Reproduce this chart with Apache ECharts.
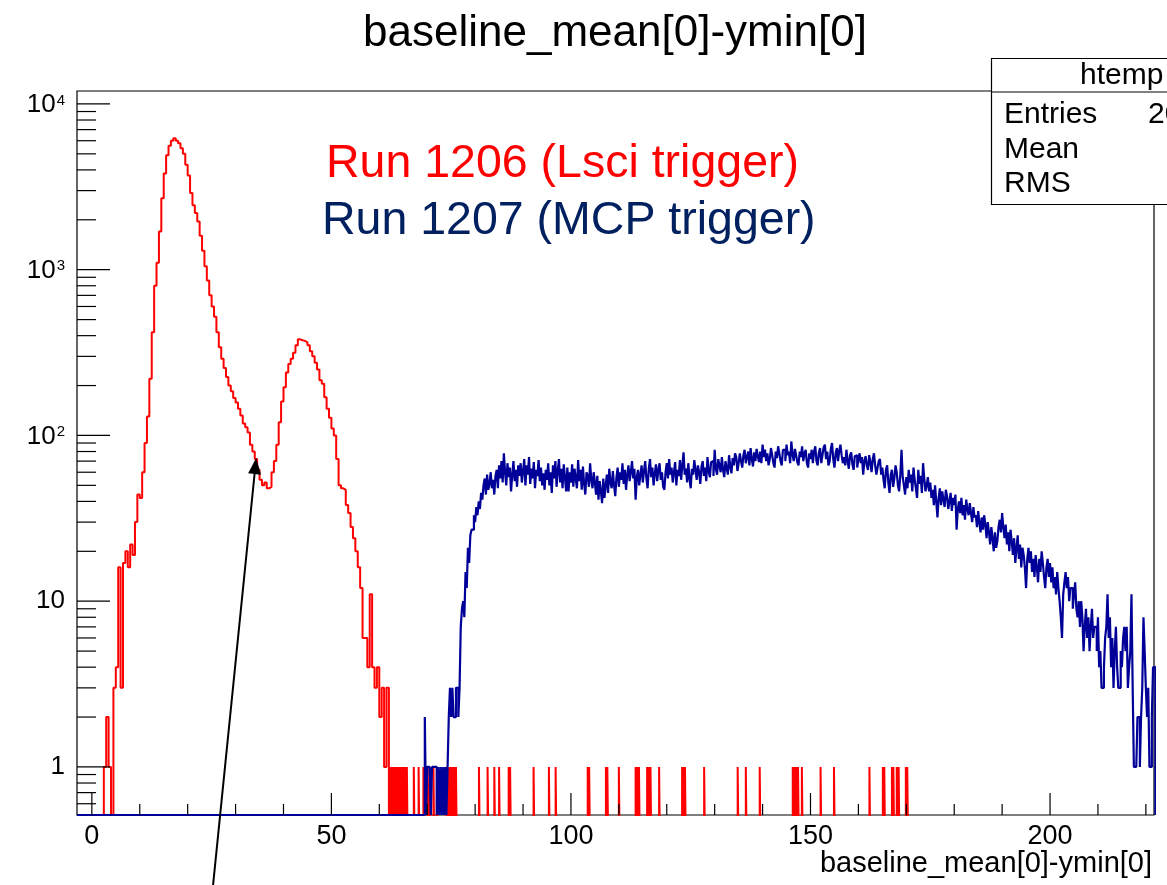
<!DOCTYPE html>
<html>
<head>
<meta charset="utf-8">
<script src="https://cdn.jsdelivr.net/npm/echarts@6/dist/echarts.min.js"></script>
<style>
html,body{margin:0;padding:0;background:#fff;}
#c{width:1167px;height:885px;}
</style>
</head>
<body>
<div id="c"></div>
<script>
// ---------------- data ----------------
const X_MIN = -3.1, X_MAX = 221.7;
const Y_MIN = 0.513, Y_MAX = 11970;

const xLabelValues = [0, 50, 100, 150, 200];
const xTickValues = [0, 10, 20, 30, 40, 50, 60, 70, 80, 90, 100, 110, 120, 130, 140, 150, 160, 170, 180, 190, 200, 210, 220];
const yMajorTicks = [1, 10, 100, 1000, 10000];
const yMinorTicks = [0.6, 0.7, 0.8, 0.9,
  2, 3, 4, 5, 6, 7, 8, 9,
  20, 30, 40, 50, 60, 70, 80, 90,
  200, 300, 400, 500, 600, 700, 800, 900,
  2000, 3000, 4000, 5000, 6000, 7000, 8000, 9000];

// Run 1206 (Lsci trigger): bins of 0.5 starting at 2.5
const redStart = 2.5;
const redBinWidth = 0.5;
const redCounts = [
  1, 2, 1, 0, 3, 4, 16, 3, 17, 20, 16, 22, 19, 30, 44, 42, 60, 90, 130, 220,
  420, 800, 1100, 1700, 2700, 3800, 4900, 5600, 6000, 6200, 6000, 5800, 5400, 5000, 4300, 3700, 2900, 2450, 2200, 1950,
  1600, 1300, 1050, 860, 700, 600, 520, 420, 340, 290, 255, 225, 200, 185, 168, 158, 145, 132, 118, 112,
  104, 88, 80, 72, 62, 54, 50, 52, 48, 49, 60, 70, 88, 120, 160, 195, 240, 270, 290, 315,
  350, 380, 375, 372, 365, 350, 322, 300, 275, 250, 215, 205, 170, 145, 128, 110, 100, 72, 50, 48,
  47, 38, 34, 28, 24, 20, 16, 12, 6, 6, 4, 11, 4, 3, 4, 2, 3, 1, 3
];
// single-entry bins (width 0.25) of Run 1206 beyond the main body
const redSingleWidth = 0.25;
const redSingles = [
  62.0, 62.25, 62.5, 62.75, 63.0, 63.25, 63.5, 63.75, 64.0, 64.25, 64.5, 64.75, 65.0, 65.25, 65.5, 65.75,
  67.2, 68.2, 69.2, 70.0, 70.5, 71.3, 72.0,
  74.0, 74.25, 74.5, 74.75, 75.0, 75.25, 75.5, 75.75, 76.0,
  80.8, 82.6, 84.0, 85.0, 87.0, 87.3, 92.2, 95.4, 96.8,
  103.5, 103.8, 107.3, 107.6, 110.0, 113.5, 113.8, 114.2, 115.9, 116.3, 116.6, 118.4,
  123.2, 123.5, 123.8, 127.8, 134.8, 136.5, 139.4, 146.3, 146.6, 147.0, 147.4, 148.2,
  152.1, 154.9, 162.3, 165.1, 165.4, 167.0, 167.3, 168.0, 168.4, 169.9, 170.2
];

// Run 1207 (MCP trigger): bins of 0.25 starting at 69.5 (one row = 5 units)
const blueStart = 69.5;
const blueBinWidth = 0.25;
const blueCounts = [
  2, 0, 1, 1, 1, 0, 1, 1, 1, 1, 0, 1, 0, 1, 0, 1, 0, 1, 0, 1,
  2, 3, 2, 3, 2, 2, 3, 3, 2, 3, 7, 9, 10, 8, 15, 12, 21, 17, 25, 27,
  27, 33, 30, 37, 33, 40, 36, 45, 41, 50, 55, 44, 58, 47, 51, 60, 48, 54, 44, 57,
  62, 48, 66, 55, 70, 52, 78, 60, 50, 68, 56, 64, 46, 58, 70, 53, 62, 49, 66, 57,
  68, 52, 61, 72, 50, 66, 58, 74, 51, 63, 55, 69, 48, 62, 57, 71, 53, 64, 50, 59,
  47, 62, 54, 68, 50, 60, 45, 66, 55, 70, 49, 61, 72, 52, 63, 48, 67, 56, 46, 64,
  46, 60, 52, 67, 49, 63, 55, 48, 71, 53, 62, 47, 65, 51, 44, 60, 57, 49, 68, 54,
  48, 60, 52, 44, 57, 41, 53, 46, 39, 55, 42, 50, 58, 45, 63, 52, 48, 61, 50, 43,
  56, 64, 49, 60, 54, 68, 51, 62, 47, 58, 66, 53, 60, 70, 55, 63, 41, 56, 62, 50,
  58, 66, 52, 61, 70, 55, 48, 63, 72, 56, 64, 50, 59, 67, 53, 62, 68, 54, 60, 49,
  47, 60, 68, 55, 72, 58, 64, 52, 60, 69, 50, 62, 57, 71, 54, 66, 79, 58, 63, 52,
  68, 55, 48, 63, 58, 71, 62, 54, 66, 60, 51, 65, 70, 57, 64, 53, 74, 61, 56, 69,
  70, 57, 82, 63, 58, 72, 66, 60, 74, 62, 56, 70, 64, 58, 76, 65, 59, 73, 66, 78,
  74, 61, 68, 78, 70, 64, 76, 82, 68, 74, 80, 66, 84, 72, 65, 79, 70, 83, 75, 69,
  80, 68, 88, 74, 82, 70, 78, 66, 72, 84, 76, 68, 64, 80, 73, 86, 78, 70, 66, 82,
  82, 70, 88, 76, 80, 68, 92, 77, 70, 83, 76, 69, 66, 80, 74, 86, 70, 78, 82, 68,
  64, 78, 72, 82, 68, 80, 86, 70, 66, 79, 84, 68, 76, 85, 88, 72, 80, 66, 70, 83,
  90, 72, 64, 78, 84, 70, 81, 88, 76, 68, 74, 66, 82, 70, 63, 76, 79, 67, 62, 75,
  76, 64, 72, 78, 68, 74, 58, 70, 75, 66, 62, 76, 69, 60, 72, 78, 66, 58, 64, 70,
  72, 58, 64, 54, 48, 62, 66, 52, 45, 58, 62, 49, 55, 66, 60, 50, 46, 58, 82, 56,
  50, 44, 56, 48, 62, 52, 58, 46, 64, 54, 48, 42, 62, 51, 57, 45, 68, 55, 46, 50,
  56, 46, 52, 42, 47, 38, 50, 40, 32, 42, 48, 38, 46, 41, 37, 47, 43, 36, 40, 45,
  35, 42, 38, 44, 27, 36, 40, 34, 42, 33, 38, 31, 41, 36, 33, 39, 34, 30, 37, 32,
  33, 28, 35, 30, 26, 32, 27, 33, 29, 24, 30, 26, 22, 28, 24, 20, 26, 21, 23, 28,
  31, 26, 34, 28, 24, 29, 22, 26, 20, 27, 23, 19, 24, 17, 21, 25, 18, 22, 16, 21,
  19, 16, 12, 18, 21, 17, 20, 15, 18, 14, 19, 16, 13, 18, 15, 20, 17, 14, 12, 16,
  18, 14, 17, 13, 16, 12, 14, 11, 15, 12, 10, 8, 6, 11, 13, 15, 12, 14, 10, 12,
  12, 9, 11, 13, 9, 8, 10, 7, 10, 8, 5, 7, 9, 6, 8, 5, 7, 9, 6, 7,
  7, 5, 8, 4, 5, 3, 3, 4, 6, 7, 11, 6, 8, 4, 6, 3, 5, 7, 4, 3,
  3, 5, 4, 6, 7, 5, 7, 3, 4, 5, 11, 3, 1, 1, 1, 2, 2, 1, 2, 3,
  8, 5, 3, 2, 3, 1, 1, 2, 4, 4
];

const titleText = 'baseline_mean[0]-ymin[0]';
const xAxisName = 'baseline_mean[0]-ymin[0]';
const redLabel = 'Run 1206 (Lsci trigger)';
const blueLabel = 'Run 1207 (MCP trigger)';
const statsName = 'htemp';
const statsRows = ['Entries', 'Mean', 'RMS'];
const statsEntriesValue = '20';

// arrow annotation in data coordinates (tail is below the frame)
const arrowTip = [34.3, 73];
const arrowTail = [25.3, 0.194];

// ---------------- build ----------------
const FONT = '"Liberation Sans", Arial, Helvetica, sans-serif';
const RED_FLOOR = 0.2;      // empty bins drop below the frame (clipped)
const BLUE_FLOOR = Y_MIN;   // empty bins lie on the frame bottom

function histPoints(start, w, counts, floor) {
  const pts = [[start, floor]];
  counts.forEach((c, i) => {
    const lo = start + i * w, hi = lo + w;
    const v = c > 0 ? c : floor;
    pts.push([lo, v], [hi, v]);
  });
  pts.push([start + counts.length * w, floor]);
  return pts;
}

const redPts = histPoints(redStart, redBinWidth, redCounts, RED_FLOOR);
redSingles.forEach(s => {
  redPts.push([s, RED_FLOOR], [s, 1], [s + redSingleWidth, 1], [s + redSingleWidth, RED_FLOOR]);
});
const bluePts = [[X_MIN, BLUE_FLOOR]].concat(histPoints(blueStart, blueBinWidth, blueCounts, BLUE_FLOOR));

function isPow10(v) {
  const l = Math.log10(v);
  return Math.abs(l - Math.round(l)) < 1e-6;
}

const chart = echarts.init(document.getElementById('c'), null, {renderer: 'canvas', width: 1167, height: 885});

const option = {
  animation: false,
  backgroundColor: '#ffffff',
  grid: {
    left: 77, top: 91, width: 1077, height: 724,
    show: true, borderColor: '#000', borderWidth: 1.2, backgroundColor: 'rgba(0,0,0,0)',
    containLabel: false, outerBoundsMode: 'none'
  },
  xAxis: {
    type: 'value', min: X_MIN, max: X_MAX,
    axisLine: {show: false}, axisTick: {show: false}, splitLine: {show: false},
    axisLabel: {
      margin: 8, fontSize: 27, color: '#000', fontFamily: FONT,
      formatter: v => {
        const r = Math.round(v * 1000) / 1000;
        return xLabelValues.indexOf(r) >= 0 ? String(r) : '';
      }
    }
  },
  yAxis: {
    type: 'log', logBase: 10, min: Y_MIN, max: Y_MAX,
    axisLine: {show: false}, axisTick: {show: false}, splitLine: {show: false},
    axisLabel: {
      margin: 12, fontSize: 26, color: '#000', fontFamily: FONT,
      formatter: v => {
        if (!isPow10(v)) return '';
        const e = Math.round(Math.log10(v));
        if (yMajorTicks.indexOf(Math.pow(10, e)) < 0) return '';
        if (e === 0) return '1';
        if (e === 1) return '10';
        return '{b|10}{sup|' + e + '}';
      },
      rich: {
        b: {fontSize: 26, lineHeight: 28, verticalAlign: 'bottom', fontFamily: FONT, color: '#000'},
        sup: {fontSize: 15, lineHeight: 15, verticalAlign: 'top', fontFamily: FONT, color: '#000', padding: [3, 0, 0, 1]}
      }
    }
  },
  series: [
    {
      name: redLabel, type: 'line', data: redPts, showSymbol: false, symbol: 'none',
      lineStyle: {color: '#ff0000', width: 2}, clip: true, z: 3, silent: true
    },
    {
      name: blueLabel, type: 'line', data: bluePts, showSymbol: false, symbol: 'none',
      lineStyle: {color: '#000099', width: 2.2}, clip: true, z: 4, silent: true
    },
    {
      type: 'custom', silent: true, clip: false, z: 5,
      data: xTickValues.map(v => [v, v % 50 === 0 ? 22 : 11]),
      renderItem: (params, api) => {
        const p = api.coord([api.value(0), Y_MIN]);
        const len = api.value(1);
        return {type: 'line', shape: {x1: p[0], y1: p[1], x2: p[0], y2: p[1] - len},
          style: {stroke: '#000', lineWidth: 1.2}};
      }
    },
    {
      type: 'custom', silent: true, clip: false, z: 5,
      encode: {x: 0, y: 1},
      data: yMajorTicks.map(v => [X_MIN, v, 33]).concat(yMinorTicks.map(v => [X_MIN, v, 19])),
      renderItem: (params, api) => {
        const p = api.coord([X_MIN, api.value(1)]);
        const len = api.value(2);
        return {type: 'line', shape: {x1: p[0], y1: p[1], x2: p[0] + len, y2: p[1]},
          style: {stroke: '#000', lineWidth: 1.2}};
      }
    }
  ]
};
chart.setOption(option);

// ---------------- annotations ----------------
const tip = chart.convertToPixel({gridIndex: 0}, arrowTip);
const tail = chart.convertToPixel({gridIndex: 0}, arrowTail);
const dx = tip[0] - tail[0], dy = tip[1] - tail[1];
const L = Math.sqrt(dx * dx + dy * dy);
const ux = dx / L, uy = dy / L;
const headLen = 16, headHalf = 6.5;
const bx = tip[0] - ux * headLen, by = tip[1] - uy * headLen;
const head = [
  [tip[0], tip[1]],
  [bx - uy * headHalf, by + ux * headHalf],
  [bx + uy * headHalf, by - ux * headHalf]
];

function txt(text, x, y, size, color, align) {
  return {type: 'text', z: 120, silent: true,
    style: {text: text, x: x, y: y, font: size + 'px ' + FONT, fill: color, align: align || 'left', verticalAlign: 'middle'}};
}

chart.setOption({
  graphic: [
    txt(titleText, 615, 34, 44, '#000', 'center'),
    txt(xAxisName, 1152, 864, 29, '#000', 'right'),
    txt(redLabel, 326, 164, 46.5, '#ff0000'),
    txt(blueLabel, 322, 221, 46.5, '#002060'),
    {type: 'line', z: 110, silent: true,
      shape: {x1: tail[0], y1: tail[1], x2: bx, y2: by},
      style: {stroke: '#000', lineWidth: 2}},
    {type: 'polygon', z: 110, silent: true, shape: {points: head}, style: {fill: '#000'}},
    {type: 'rect', z: 100, silent: true,
      shape: {x: 991.5, y: 58.5, width: 220, height: 146},
      style: {fill: '#fff', stroke: '#000', lineWidth: 1.2}},
    {type: 'line', z: 101, silent: true,
      shape: {x1: 991.5, y1: 92, x2: 1167, y2: 92},
      style: {stroke: '#000', lineWidth: 1.2}},
    txt(statsName, 1080, 76, 30, '#000'),
    txt(statsRows[0], 1004, 115, 30, '#000'),
    txt(statsRows[1], 1004, 150, 30, '#000'),
    txt(statsRows[2], 1004, 184, 30, '#000'),
    txt(statsEntriesValue, 1148, 115, 30, '#000')
  ]
});
</script>
</body>
</html>
